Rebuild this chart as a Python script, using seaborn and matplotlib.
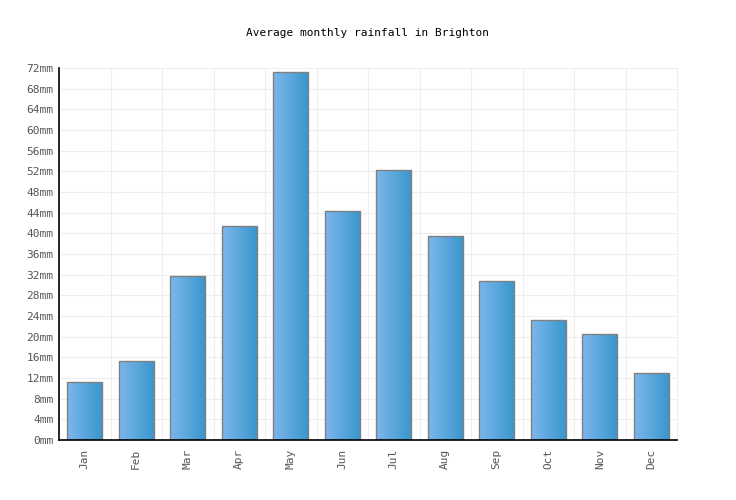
import numpy as np
import pandas as pd
import matplotlib
matplotlib.use('Agg')
import matplotlib.pyplot as plt
import seaborn as sns
from matplotlib.colors import LinearSegmentedColormap

# data
months = ['Jan', 'Feb', 'Mar', 'Apr', 'May', 'Jun',
          'Jul', 'Aug', 'Sep', 'Oct', 'Nov', 'Dec']
rainfall = [11.2, 15.2, 31.7, 41.4, 71.2, 44.3,
            52.2, 39.4, 30.7, 23.2, 20.5, 12.9]
y_ticks = list(range(0, 73, 4))
y_labels = [f'{v}mm' for v in y_ticks]

df = pd.DataFrame({'month': months, 'rain': rainfall})

sns.set_style('white')
plt.rcParams['font.family'] = ['DejaVu Sans Mono']

fig = plt.figure(figsize=(7.36, 5), dpi=100)
ax = fig.add_axes([59 / 736, 60 / 500, 618 / 736, 372 / 500])

sns.barplot(data=df, x='month', y='rain', ax=ax, width=0.68,
            color='#5aa8e0', edgecolor='#808080', linewidth=1.0,
            saturation=1)

# horizontal gradient fill inside each bar
grad_cmap = LinearSegmentedColormap.from_list('bar', ['#7db7ec', '#3896cc'])
grad = np.linspace(0, 1, 256).reshape(1, -1)
for patch in ax.patches:
    x0, y0 = patch.get_x(), patch.get_y()
    w, h = patch.get_width(), patch.get_height()
    im = ax.imshow(grad, cmap=grad_cmap, aspect='auto',
                   extent=(x0, x0 + w, y0, y0 + h), zorder=patch.get_zorder())
    im.set_clip_path(patch)
    patch.set_facecolor('none')
    patch.set_zorder(patch.get_zorder() + 0.1)

ax.set_xlim(-0.5, len(months) - 0.5)
ax.set_ylim(0, 72)
ax.set_yticks(y_ticks)
ax.set_yticklabels(y_labels)
ax.set_xlabel('')
ax.set_ylabel('')
ax.tick_params(axis='x', rotation=90, length=0, pad=6,
               labelsize=8, labelcolor='#555555')
ax.tick_params(axis='y', length=0, pad=4, labelsize=8, labelcolor='#555555')

# grid: horizontal at ticks, vertical between categories
for v in y_ticks[1:]:
    ax.axhline(v, color='#eeeeee', lw=0.75, zorder=0, clip_on=False)
for b in np.arange(0.5, len(months), 1.0):
    ax.axvline(b, color='#eeeeee', lw=0.75, zorder=0, clip_on=False)

for side in ['top', 'right']:
    ax.spines[side].set_visible(False)
ax.spines['left'].set_color('black')
ax.spines['bottom'].set_color('black')
ax.spines['left'].set_linewidth(1.2)
ax.spines['bottom'].set_linewidth(1.2)

fig.text(367 / 736, 1 - 33 / 500, 'Average monthly rainfall in Brighton',
         ha='center', va='center', fontsize=8, color='black')

fig.savefig('out.png', dpi=100)
